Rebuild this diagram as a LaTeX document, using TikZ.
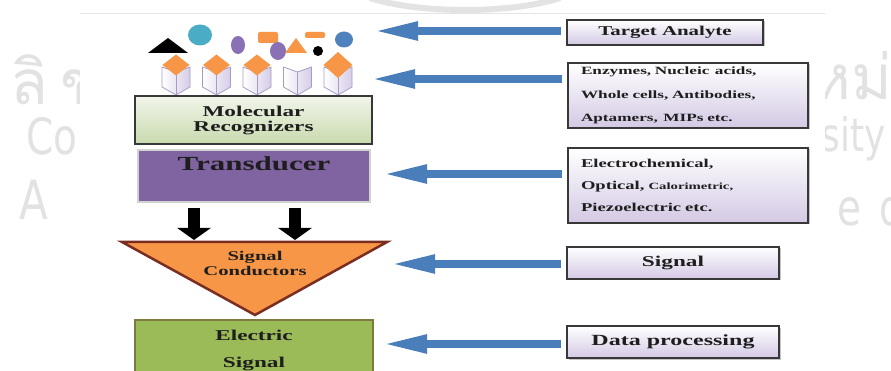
\documentclass[tikz,border=0pt]{standalone}
\usepackage{fontspec}
\newfontfamily\wideserif{Liberation Serif}[FakeStretch=1.55]
\newfontfamily\thaifont[Script=Thai]{Loma}
\newfontfamily\markfont{DejaVu Sans}[FakeStretch=0.78]
\usepackage{xcolor}
\definecolor{arrowblue}{HTML}{4A7EBB}
\definecolor{lavender}{HTML}{D3C9E4}
\definecolor{boxedge}{HTML}{383838}
\definecolor{mrtop}{HTML}{F1F5EA}
\definecolor{mrbot}{HTML}{C9DAAE}
\definecolor{tdpurple}{HTML}{8064A2}
\definecolor{scorange}{HTML}{F79646}
\definecolor{scedge}{HTML}{7A2E22}
\definecolor{esgreen}{HTML}{9BBB59}
\definecolor{esedge}{HTML}{7C7A3E}
\definecolor{molteal}{HTML}{4BACC6}
\definecolor{molpurple}{HTML}{8A70B4}
\definecolor{molblue}{HTML}{4F81BD}
\definecolor{cupedge}{HTML}{A99CC4}
\definecolor{cupfill}{HTML}{D6CDE8}
\definecolor{wmgray}{HTML}{E2E2E2}
\definecolor{textdark}{HTML}{1E1E1E}
\usepackage{tikz}
\usetikzlibrary{arrows.meta, shadows}
\tikzset{
  sidebox/.style ={rectangle, draw=boxedge, line width=1.3pt, top color=white, bottom color=lavender,
                   drop shadow={shadow xshift=1.5pt, shadow yshift=-1.5pt, opacity=0.45},
                   text=textdark, inner sep=0pt, align=center},
  sidefont/.style={font=\wideserif\bfseries\fontsize{#1}{#1}\selectfont},
  mrbox/.style   ={rectangle, draw=boxedge, line width=1.3pt, top color=mrtop, bottom color=mrbot,
                   text=textdark, align=center, inner sep=0pt, font=\wideserif\bfseries\fontsize{15}{15}\selectfont},
  tdbox/.style   ={rectangle, draw=gray!35, line width=1.2pt, fill=tdpurple,
                   drop shadow={shadow xshift=1pt, shadow yshift=-1.5pt, opacity=0.3},
                   text=textdark, inner sep=0pt, font=\wideserif\bfseries\fontsize{20}{20}\selectfont},
  esbox/.style   ={rectangle, draw=esedge, line width=2.5pt, fill=esgreen, text=textdark, align=center,
                   inner sep=0pt, font=\wideserif\bfseries\fontsize{15}{27}\selectfont},
  condtri/.style ={fill=scorange, draw=scedge, line width=2.5pt, line join=miter},
  condtxt/.style ={text=textdark, align=center, inner sep=0pt, font=\wideserif\bfseries\fontsize{13.3}{15}\selectfont},
  cup/.style     ={left color=white, right color=cupfill, draw=cupedge, line width=0.8pt, line join=round},
  bluearr/.style ={-{Triangle[length=45pt, width=17pt]}, line width=8pt, color=arrowblue, shorten <=5pt},
  downarr/.style ={-{Triangle[length=12pt, width=33pt]}, line width=12pt, color=black, shorten <=5pt, shorten >=2pt},
  wmtext/.style  ={text=wmgray, inner sep=0pt},
}

\begin{document}
\begin{tikzpicture}[x=1pt, y=-1pt]
  \useasboundingbox (0,0) rectangle (891,371);
  \fill[white] (0,0) rectangle (891,371);
  % faint background marks
  \node[wmtext, anchor=west, font=\thaifont\fontsize{62}{62}\addfontfeature{LetterSpace=20}\selectfont] (wmA) at (10,72) {ลิขสิทธิ์};
  \node[wmtext, anchor=west, font=\thaifont\fontsize{62}{62}\selectfont] (wmB) at (780,72) {ใหม่};
  \node[wmtext, anchor=west, font=\markfont\fontsize{50}{50}\selectfont] (wmC) at (26,141) {Copyright};
  \node[wmtext, anchor=east, font=\markfont\fontsize{46}{46}\selectfont] (wmD) at (886,139) {University};
  \node[wmtext, anchor=west, font=\markfont\fontsize{54}{54}\addfontfeature{LetterSpace=60}\selectfont] (wmE) at (19,205) {All rights};
  \node[wmtext, anchor=east, font=\markfont\fontsize{50}{50}\addfontfeature{LetterSpace=35}\selectfont] (wmF) at (904,207) {reserved};
  \draw[gray!22, line width=6pt] (370,-2) .. controls (420,14) and (510,14) .. (560,-2);
  \fill[white] (80,13) rectangle (825,371);
  \draw[gray!20, line width=0.6pt] (80,13) -- (825,13);

  % right column
  \node[sidebox, sidefont=13.5, minimum width=196pt, minimum height=25pt] (target) at (665,32.5) {Target Analyte};
  \node[sidebox, font=\wideserif\bfseries\fontsize{11.1}{23.5}\selectfont, minimum width=240pt, minimum height=65pt,
        text width=214pt, align=left] (recog) at (688,95.5) {Enzymes, Nucleic\, acids,\\ Whole cells, Antibodies,\\ Aptamers,\, MIPs etc.};
  \node[sidebox, font=\wideserif\bfseries\fontsize{12}{22}\selectfont, minimum width=240pt, minimum height=75pt,
        text width=214pt, align=left] (types) at (688,185.5) {Electrochemical,\\ Optical, {\fontsize{9.5}{22}\selectfont Calorimetric,}\\ Piezoelectric etc.};
  \node[sidebox, sidefont=15, minimum width=212pt, minimum height=32pt] (signal) at (673,263) {Signal};
  \node[sidebox, sidefont=15.5, minimum width=212pt, minimum height=32pt] (data) at (673,342) {Data processing};

  % analytes and recognizers
  \fill[black] (148,53) -- (188,53) -- (168,38) -- cycle;
  \fill[molteal] (200,35) ellipse (12 and 10.5);
  \fill[molpurple] (238,45) ellipse (7 and 9);
  \fill[scorange, rounded corners=2pt] (258,32) rectangle (278,43);
  \fill[molpurple] (278,51) ellipse (8 and 9);
  \fill[scorange] (285,53) -- (307,53) -- (296,38) -- cycle;
  \fill[scorange, rounded corners=2pt] (305,32) rectangle (325,38);
  \fill[black] (318,51) circle (5);
  \fill[molblue] (344,39.5) ellipse (9 and 8);
  \foreach \i in {0,...,4}{
    \pgfmathsetmacro\cx{176+40.5*\i}
    \path[cup] (\cx-14,67) -- (\cx,72) -- (\cx+14,67) -- (\cx+14,87) -- (\cx,95) -- (\cx-14,87) -- cycle;
    \draw[cupedge, line width=0.5pt] (\cx,72) -- (\cx,95);
  }
  \foreach \cx/\dy/\dw in {176/10.5/13.5, 216.5/10.5/13.5, 257/10.5/13.5, 338/13/14.5}
    \fill[scorange] (\cx,65-\dy) -- (\cx+\dw,65) -- (\cx,65+\dy) -- (\cx-\dw,65) -- cycle;

  % left column
  \node[mrbox, minimum width=237pt, minimum height=48pt] (molrec) at (253.5,120) {Molecular\\Recognizers};
  \node[tdbox, minimum width=232pt, minimum height=52pt, text height=14pt, text depth=24pt] (trans) at (254,176) {Transducer};
  \coordinate (triL) at (122,242);
  \coordinate (triR) at (387,242);
  \coordinate (triB) at (255,315);
  \draw[condtri] (triL) -- (triR) -- (triB) -- cycle;
  \node[condtxt] (cond) at (255,263) {Signal\\Conductors};
  \node[esbox, minimum width=238pt, minimum height=60pt] (elec) at (254,350) {Electric\\Signal};

  \coordinate (dnA) at (194,0);
  \coordinate (dnB) at (295,0);
  \foreach \c in {dnA,dnB} \draw[downarr] (trans.south -| \c) -- (triL -| \c);

  % pointers from the right column
  \coordinate (tipA) at (373,31);
  \coordinate (tipB) at (370,79);
  \coordinate (tipC) at (382,174);
  \coordinate (tipD) at (390,264);
  \coordinate (tipE) at (382,344);
  \draw[bluearr] (target.west |- tipA) -- (tipA);
  \draw[bluearr] (recog.west |- tipB) -- (tipB);
  \draw[bluearr] (types.west |- tipC) -- (tipC);
  \draw[bluearr] (signal.west |- tipD) -- (tipD);
  \draw[bluearr] (data.west |- tipE) -- (tipE);
\end{tikzpicture}
\end{document}
